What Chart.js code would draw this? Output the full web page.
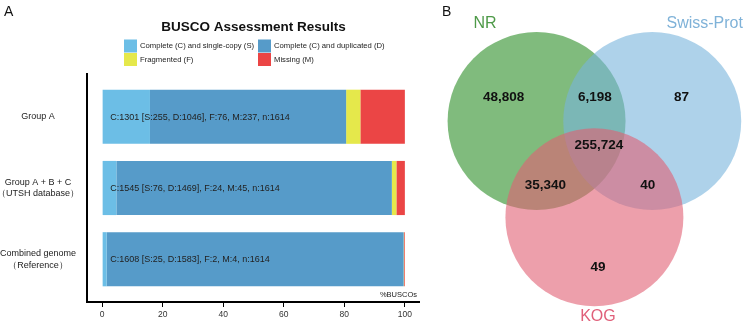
<!DOCTYPE html>
<html>
<head>
<meta charset="utf-8">
<script src="https://cdn.jsdelivr.net/npm/chart.js@4.4.1/dist/chart.umd.min.js"></script>
<style>
  html, body { margin: 0; padding: 0; background: #fff; }
  #wrap { position: relative; width: 743px; height: 325px; overflow: hidden; }
  #busco { position: absolute; left: 0; top: 0; }
  #venn { position: absolute; left: 420px; top: 0; }
</style>
</head>
<body>
<div id="wrap">
  <canvas id="busco" width="420" height="325"></canvas>
  <canvas id="venn" width="323" height="325"></canvas>
</div>
<script>
// ---- Panel A: BUSCO data (percent of 1614 BUSCOs) ----
const groups = [
  ['Group A'],
  ['Group A + B + C', '（UTSH database）'],
  ['Combined genome', '（Reference）']
];
const seriesNames = [
  'Complete (C) and single-copy (S)',
  'Complete (C) and duplicated (D)',
  'Fragmented (F)',
  'Missing (M)'
];
const singleCopy = [15.8, 4.7, 1.5];
const duplicated = [64.8, 91.0, 98.1];
const fragmented = [4.7, 1.5, 0.15];
const missing = [14.7, 2.8, 0.25];
const summaries = [
  'C:1301 [S:255, D:1046], F:76, M:237, n:1614',
  'C:1545 [S:76, D:1469], F:24, M:45, n:1614',
  'C:1608 [S:25, D:1583], F:2, M:4, n:1614'
];
const xTicks = [0, 20, 40, 60, 80, 100];

// ---- Panel B: Venn data (units of one circle radius) ----
const vennSets = ['NR', 'Swiss-Prot', 'KOG'];
const vennX = [0, 1.30, 0.65];
const vennY = [0, 0, -1.08];
const vennR = [1, 1, 1];
const setLabelX = [-0.58, 1.89, 0.69];
const setLabelY = [1.09, 1.09, -2.20];
const regionCounts = [48808, 6198, 87, 255724, 35340, 40, 49];
const regionX = [-0.37, 0.655, 1.63, 0.70, 0.10, 1.25, 0.69];
const regionY = [0.27, 0.27, 0.27, -0.27, -0.72, -0.72, -1.64];

const FONT = '"Liberation Sans", Arial, Helvetica, sans-serif';
const barColors = ['#6CBEE6', '#569BC9', '#E5E84B', '#EB4545'];
const vennFill = ['rgba(60,150,55,0.65)', 'rgba(120,180,220,0.6)', 'rgba(225,95,115,0.6)'];
const vennText = ['#4E9A48', '#7FB2D8', '#E0607A'];

// title, legend, in-bar summaries and panel letter
const buscoDecor = {
  id: 'buscoDecor',
  afterDatasetsDraw(chart) {
    const { ctx, scales: { x, y } } = chart;
    ctx.save();
    ctx.font = '9px ' + FONT;
    ctx.fillStyle = '#222';
    ctx.textBaseline = 'middle';
    ctx.textAlign = 'left';
    summaries.forEach((t, i) => ctx.fillText(t, x.getPixelForValue(0) + 8, y.getPixelForValue(i) + 0.5));
    ctx.restore();
  },
  afterDraw(chart) {
    const { ctx, chartArea } = chart;
    ctx.save();
    ctx.fillStyle = '#111';
    ctx.textBaseline = 'middle';
    ctx.font = '14px ' + FONT;
    ctx.fillText('A', 4, 12);

    ctx.textAlign = 'center';
    ctx.font = 'bold 13.5px ' + FONT;
    ctx.fillText('BUSCO Assessment Results', (chartArea.left + chartArea.right) / 2, 27);

    // legend in two columns
    const colX = [124, 258];
    const rowY = [45.5, 59];
    ctx.textAlign = 'left';
    ctx.font = '7.7px ' + FONT;
    chart.data.datasets.forEach((ds, i) => {
      const cx = colX[i % 2], cy = rowY[Math.floor(i / 2)];
      ctx.fillStyle = ds.backgroundColor;
      ctx.fillRect(cx, cy - 6, 13, 13);
      ctx.fillStyle = '#222';
      ctx.fillText(ds.label, cx + 16, cy + 0.5);
    });

    ctx.textAlign = 'right';
    ctx.font = '7.5px ' + FONT;
    ctx.fillText('%BUSCOs', 417, 295);
    ctx.restore();
  }
};

new Chart(document.getElementById('busco'), {
  type: 'bar',
  data: {
    datasets: [singleCopy, duplicated, fragmented, missing].map((d, i) => ({
      label: seriesNames[i],
      data: d.map((v, g) => ({ x: v, y: g })),
      backgroundColor: barColors[i],
      borderWidth: 0,
      barPercentage: 0.76,
      categoryPercentage: 1
    }))
  },
  options: {
    indexAxis: 'y',
    responsive: false,
    animation: false,
    events: [],
    layout: { padding: { top: 74, right: 0, bottom: 0, left: 0 } },
    scales: {
      x: {
        type: 'linear',
        stacked: true,
        min: -5,
        max: 105,
        afterBuildTicks: s => { s.ticks = xTicks.map(v => ({ value: v })); },
        afterFit: s => { s.height = 23; },
        border: { display: true, color: '#000', width: 2 },
        grid: { display: true, drawOnChartArea: false, drawTicks: true, tickLength: 5, color: '#000', lineWidth: 1 },
        ticks: { font: { family: FONT, size: 8.5 }, color: '#333', padding: 3, maxRotation: 0 }
      },
      y: {
        type: 'linear',
        stacked: true,
        reverse: true,
        offset: false,
        min: -0.6,
        max: 2.6,
        afterBuildTicks: s => { s.ticks = groups.map((g, i) => ({ value: i })); },
        afterFit: s => { s.width = 87; },
        border: { display: true, color: '#000', width: 2 },
        grid: { display: false, drawTicks: false, offset: false },
        ticks: {
          font: { family: FONT, size: 9, lineHeight: 1.3 },
          color: '#222',
          padding: 8,
          crossAlign: 'center',
          callback: v => groups[v]
        }
      }
    },
    plugins: { legend: { display: false }, tooltip: { enabled: false }, title: { display: false } }
  },
  plugins: [buscoDecor]
});

// set names, region counts and panel letter
const vennLabels = {
  id: 'vennLabels',
  afterDatasetsDraw(chart) {
    const { ctx, scales: { x, y } } = chart;
    ctx.save();
    ctx.textAlign = 'center';
    ctx.textBaseline = 'middle';
    ctx.font = '16px ' + FONT;
    vennSets.forEach((s, i) => {
      ctx.fillStyle = vennText[i];
      ctx.fillText(s, x.getPixelForValue(setLabelX[i]), y.getPixelForValue(setLabelY[i]));
    });
    ctx.font = 'bold 13.5px ' + FONT;
    ctx.fillStyle = '#111';
    regionCounts.forEach((n, i) => {
      ctx.fillText(n.toLocaleString('en-US'), x.getPixelForValue(regionX[i]), y.getPixelForValue(regionY[i]));
    });
    ctx.textAlign = 'left';
    ctx.font = '14px ' + FONT;
    ctx.fillText('B', 22, 12);
    ctx.restore();
  }
};

const vennCanvas = document.getElementById('venn');
const vennXMin = -1.31, vennXMax = 2.32;
// bubble radius is in pixels: one radius unit = canvas width / x range (chart area fills the canvas)
const pxPerUnit = vennCanvas.width / (vennXMax - vennXMin);

new Chart(vennCanvas, {
  type: 'bubble',
  data: {
    datasets: [{
      data: vennSets.map((s, i) => ({ x: vennX[i], y: vennY[i], r: vennR[i] * pxPerUnit })),
      backgroundColor: vennFill,
      borderWidth: 0,
      clip: false
    }]
  },
  options: {
    responsive: false,
    animation: false,
    events: [],
    layout: { padding: 0, autoPadding: false },
    scales: {
      x: { type: 'linear', display: false, min: vennXMin, max: vennXMax },
      y: { type: 'linear', display: false, min: -2.29, max: 1.36 }
    },
    plugins: { legend: { display: false }, tooltip: { enabled: false } }
  },
  plugins: [vennLabels]
});
</script>
</body>
</html>
